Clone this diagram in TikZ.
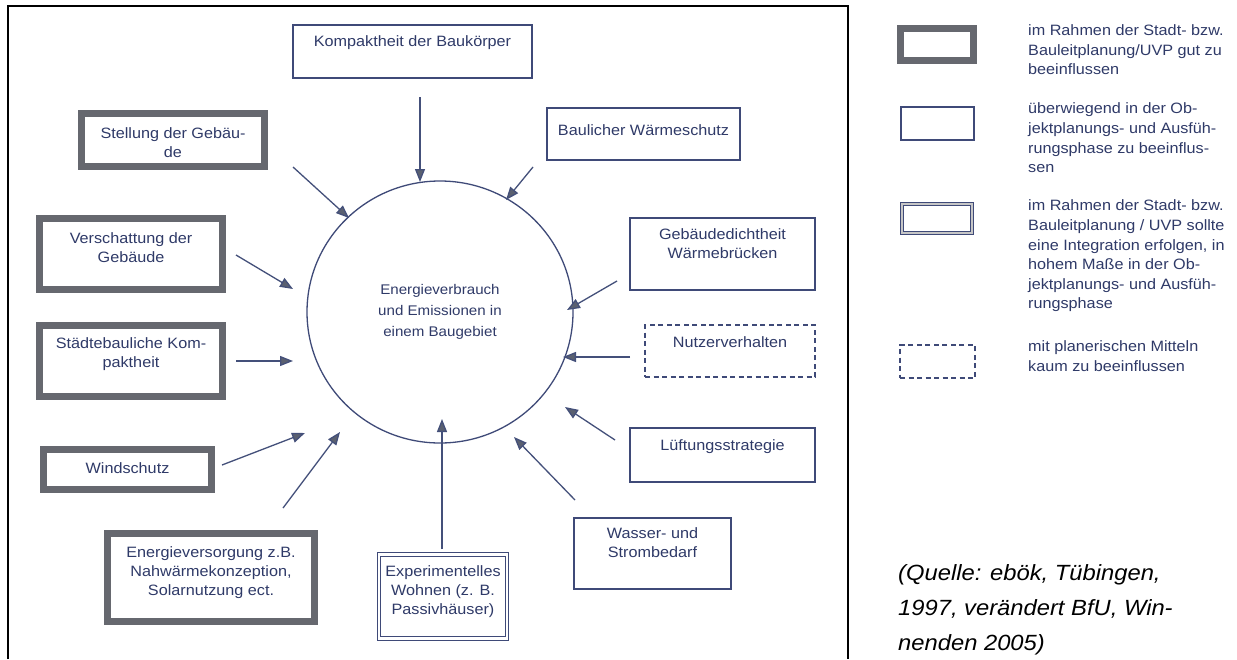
\documentclass[tikz,border=0pt]{standalone}
\usepackage{fontspec}
\setmainfont[FakeStretch=1.08]{Liberation Sans}
\usetikzlibrary{arrows.meta,shapes.geometric}
\definecolor{txt}{HTML}{2F3A68}
\definecolor{thinln}{HTML}{3F4A78}
\definecolor{thickln}{HTML}{66686F}
\definecolor{arrln}{HTML}{44507A}
\definecolor{tipcol}{HTML}{5A6070}
\tikzset{
  lbl/.style={text=txt, align=center, inner sep=0pt, font=\fontsize{15}{19}\selectfont},
  legtxt/.style={text=txt, align=left, inner sep=0pt, anchor=west, font=\fontsize{15}{19.6}\selectfont},
  thinbox/.style={draw=thinln, line width=1.3pt, inner sep=0pt, fill=white},
  thickbox/.style={draw=thickln, line width=7pt, inner sep=0pt, fill=white},
  dblbox/.style={draw=thinln, line width=1pt, double=white, double distance=2.5pt, inner sep=0pt},
  dashbox/.style={draw=thinln, line width=1.3pt, dash pattern=on 5pt off 3.5pt, inner sep=0pt},
  arr/.style={draw=arrln, line width=1.3pt, -{Triangle[length=13pt,width=10pt,fill=tipcol]}}
}
\begin{document}
\begin{tikzpicture}[x=1pt,y=-1pt]
\useasboundingbox (0,0) rectangle (1237,659);
\fill[white] (0,0) rectangle (1237,659);
% frame
\draw[line width=2.5pt] (8,659) -- (8,6) -- (848,6) -- (848,659);

% central ellipse
\node[ellipse, draw=thinln, line width=1.3pt, minimum width=266pt, minimum height=262pt, inner sep=0pt,
      text=txt, align=center, font=\fontsize{14}{21}\selectfont] (C) at (440,312)
  {Energieverbrauch\\und Emissionen in\\einem Baugebiet};

% boxes
\node[thinbox, minimum width=239pt, minimum height=53pt] (kb) at (412.5,51.5) {};
\node[lbl] (kbT) at (412.5,43) {Kompaktheit der Baukörper};

\node[thickbox, minimum width=183pt, minimum height=53pt] (st) at (173,140) {};
\node[lbl] (stT) at (173,142.5) {Stellung der Gebäu-\\de};

\node[thinbox, minimum width=193pt, minimum height=52pt] (bw) at (643.5,134) {};
\node[lbl] (bwT) at (643.5,130) {Baulicher Wärmeschutz};

\node[thickbox, minimum width=183pt, minimum height=71pt] (vs) at (131,254) {};
\node[lbl] (vsT) at (131,247.5) {Verschattung der\\Gebäude};

\node[thinbox, minimum width=185pt, minimum height=72pt] (gd) at (722.5,254) {};
\node[lbl] (gdT) at (722.5,244) {Gebäudedichtheit\\Wärmebrücken};

\node[thickbox, minimum width=183pt, minimum height=71pt] (sk) at (131,361) {};
\node[lbl] (skT) at (131,354.5) {Städtebauliche Kom-\\paktheit};

\node[dashbox, minimum width=170pt, minimum height=52pt] (nv) at (730,351) {};
\node[lbl] (nvT) at (730,342) {Nutzerverhalten};

\node[thickbox, minimum width=168pt, minimum height=40pt] (ws) at (127.5,469.5) {};
\node[lbl] (wsT) at (127.5,468) {Windschutz};

\node[thinbox, minimum width=185pt, minimum height=54pt] (ls) at (722.5,455) {};
\node[lbl] (lsT) at (722.5,447) {Lüftungsstrategie};

\node[thickbox, minimum width=207pt, minimum height=88pt] (ev) at (211,577.5) {};
\node[lbl] (evT) at (211,573) {Energieversorgung z.B.\\Nahwärmekonzeption,\\Solarnutzung ect.};

\node[dblbox, minimum width=128pt, minimum height=84pt] (ex) at (443,596.5) {};
\node[lbl] (exT) at (443,592) {Experimentelles\\Wohnen (z. B.\\Passivhäuser)};

\node[thinbox, minimum width=157pt, minimum height=71pt] (wb) at (652.5,553.5) {};
\node[lbl] (wbT) at (652.5,543) {Wasser- und\\Strombedarf};

% arrow end points
\coordinate (a1s) at (420,97);  \coordinate (a1e) at (420,182);
\coordinate (a2s) at (293,167); \coordinate (a2e) at (349,218);
\coordinate (a3s) at (533,167); \coordinate (a3e) at (506,200);
\coordinate (a4s) at (236,255); \coordinate (a4e) at (293,289);
\coordinate (a5s) at (617,281); \coordinate (a5e) at (567,310);
\coordinate (a6s) at (236,361); \coordinate (a6e) at (293,361);
\coordinate (a7s) at (630,357); \coordinate (a7e) at (563,357);
\coordinate (a8s) at (222,465); \coordinate (a8e) at (305,433);
\coordinate (a9s) at (615,440); \coordinate (a9e) at (565,407);
\coordinate (a10s) at (283,508); \coordinate (a10e) at (340,432);
\coordinate (a11s) at (442,549); \coordinate (a11e) at (442,419);
\coordinate (a12s) at (575,500); \coordinate (a12e) at (514,437);
\foreach \i in {1,...,12} { \draw[arr] (a\i s) -- (a\i e); }

% legend
\node[thickbox, minimum width=73pt, minimum height=32pt] (L1) at (937,44.5) {};
\node[thinbox, minimum width=73pt, minimum height=33pt] (L2) at (937.5,123.5) {};
\node[dblbox, minimum width=70pt, minimum height=29pt, double=gray!45] (L3) at (937,218.5) {};
\node[dashbox, minimum width=75pt, minimum height=33pt] (L4) at (937.5,361.5) {};

\node[legtxt] (L1T) at (1028,50) {im Rahmen der Stadt- bzw.\\Bauleitplanung/UVP gut zu\\beeinflussen};
\node[legtxt] (L2T) at (1028,138) {überwiegend in der Ob-\\jektplanungs- und Ausfüh-\\rungsphase zu beeinflus-\\sen};
\node[legtxt] (L3T) at (1028,256) {im Rahmen der Stadt- bzw.\\Bauleitplanung / UVP sollte\\eine Integration erfolgen, in\\hohem Maße in der Ob-\\jektplanungs- und Ausfüh-\\rungsphase};
\node[legtxt] (L4T) at (1028,356) {mit planerischen Mitteln\\kaum zu beeinflussen};

% source
\node[anchor=west, align=left, inner sep=0pt, font=\fontsize{22}{35}\selectfont\itshape] (src) at (898,610)
  {(Quelle: ebök, Tübingen,\\1997, verändert BfU, Win-\\nenden 2005)};
\end{tikzpicture}
\end{document}
